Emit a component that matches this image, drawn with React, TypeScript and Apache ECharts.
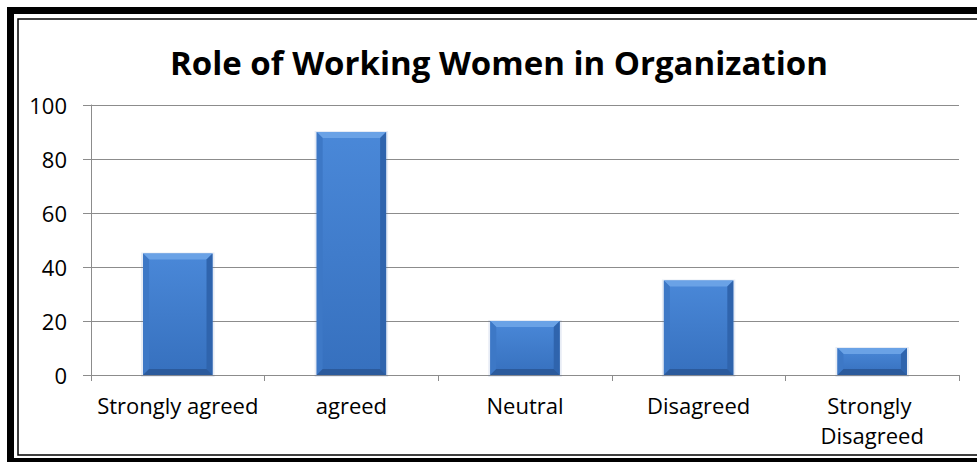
import React, { useEffect, useRef } from "react";
import * as echarts from "echarts";

const titleText = "Role of Working Women in Organization";
const categories = ["Strongly agreed", "agreed", "Neutral", "Disagreed", "Strongly Disagreed"];
const values = [45, 90, 20, 35, 10];
const yTicks = { min: 0, max: 100, interval: 20 };

export default function App() {
  const ref = useRef<HTMLDivElement>(null);
  useEffect(() => {
    if (!ref.current) return;
    const chart = echarts.init(ref.current, null, { renderer: "svg" });
    const font = "'Open Sans', sans-serif";
    chart.setOption({
      animation: false,
      backgroundColor: "#ffffff",
      title: {
        text: titleText,
        left: 165,
        top: 41,
        textStyle: { fontFamily: font, fontWeight: "bold", fontSize: 33, color: "#000" },
      },
      grid: { left: 91, right: 18, top: 105, bottom: 87, containLabel: false },
      xAxis: {
        type: "category",
        data: categories,
        axisLine: { show: true, lineStyle: { color: "#8c8c8c", width: 1 } },
        axisTick: { show: true, length: 6, lineStyle: { color: "#8c8c8c" } },
        axisLabel: {
          fontFamily: font,
          fontSize: 22,
          color: "#000",
          margin: 15,
          lineHeight: 30,
          width: 168,
          overflow: "break",
          interval: 0,
        },
      },
      yAxis: {
        type: "value",
        min: yTicks.min,
        max: yTicks.max,
        interval: yTicks.interval,
        axisLine: { show: true, lineStyle: { color: "#8c8c8c", width: 1 } },
        axisTick: { show: true, length: 8, lineStyle: { color: "#8c8c8c" } },
        splitLine: { show: true, lineStyle: { color: "#8c8c8c", width: 1 } },
        axisLabel: { fontFamily: font, fontSize: 22, color: "#000", margin: 24 },
      },
      graphic: [
        {
          type: "rect",
          shape: { x: 10.5, y: 10.5, width: 1000, height: 451 },
          style: { fill: "none", stroke: "#000", lineWidth: 7 },
          z: 100,
        },
        {
          type: "rect",
          shape: { x: 18, y: 19, width: 1000, height: 436 },
          style: { fill: "none", stroke: "#000", lineWidth: 1.5 },
          z: 100,
        },
      ],
      series: [
        {
          type: "custom",
          data: values.map((v, i) => [i, v]),
          encode: { x: 0, y: 1 },
          z: 5,
          renderItem: (params: any, api: any) => {
            const idx = api.value(0);
            const v = api.value(1);
            const top = api.coord([idx, v]);
            const bot = api.coord([idx, 0]);
            const bw = api.size([1, 0])[0] * 0.4;
            const x0 = top[0] - bw / 2;
            const x1 = top[0] + bw / 2;
            const y0 = top[1];
            const y1 = bot[1];
            const b = Math.min(6, (y1 - y0) / 3);
            return {
              type: "group",
              children: [
                {
                  type: "rect",
                  shape: { x: x0 - 2, y: y0 - 1, width: bw + 4, height: y1 - y0 + 3 },
                  style: { fill: "rgba(60,100,170,0.12)" },
                },
                {
                  type: "rect",
                  shape: { x: x0, y: y0, width: bw, height: y1 - y0 },
                  style: {
                    fill: new echarts.graphic.LinearGradient(0, 0, 0, 1, [
                      { offset: 0, color: "#4a88d8" },
                      { offset: 1, color: "#3670be" },
                    ]),
                  },
                },
                {
                  type: "polygon",
                  shape: { points: [[x0, y0], [x1, y0], [x1 - b, y0 + b], [x0 + b, y0 + b]] },
                  style: { fill: "#6aa2e6" },
                },
                {
                  type: "polygon",
                  shape: { points: [[x0, y0], [x0 + b, y0 + b], [x0 + b, y1 - b], [x0, y1]] },
                  style: { fill: "#3d78c6" },
                },
                {
                  type: "polygon",
                  shape: { points: [[x1, y0], [x1 - b, y0 + b], [x1 - b, y1 - b], [x1, y1]] },
                  style: { fill: "#2f64ad" },
                },
                {
                  type: "polygon",
                  shape: { points: [[x0, y1], [x0 + b, y1 - b], [x1 - b, y1 - b], [x1, y1]] },
                  style: { fill: "#2b5a9c" },
                },
              ],
            };
          },
        },
      ],
    });
    return () => chart.dispose();
  }, []);
  return (
    <div
      ref={ref}
      style={{ position: "fixed", left: 0, top: 0, width: 977, height: 462, background: "#fff" }}
    />
  );
}
